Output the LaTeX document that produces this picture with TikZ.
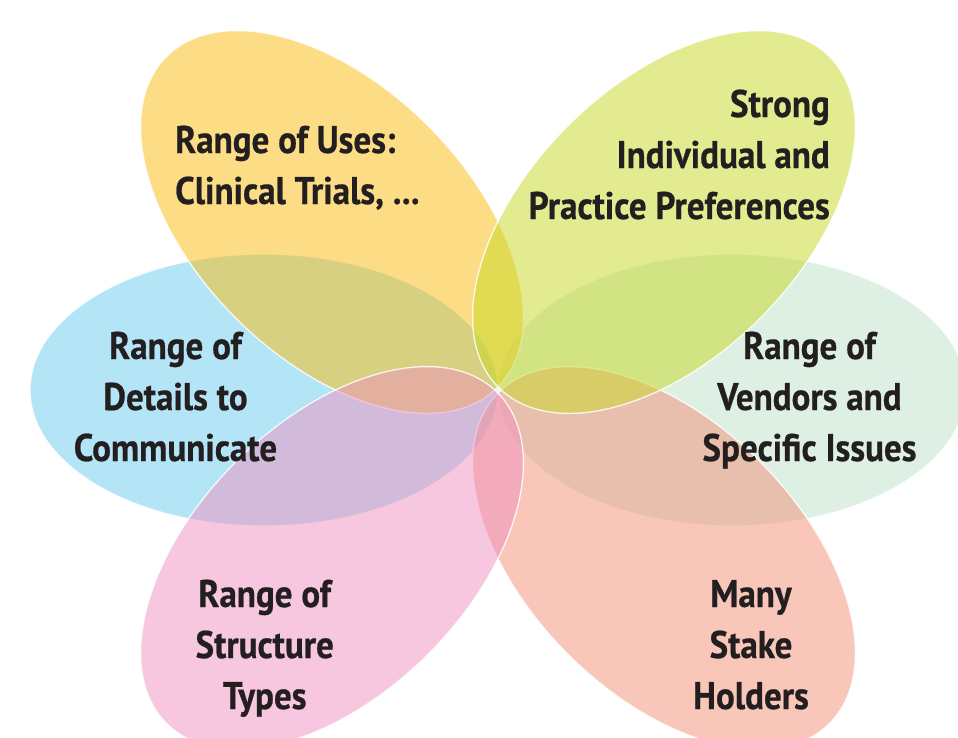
\documentclass[tikz,border=0pt]{standalone}
\usepackage{fontspec}
\setmainfont{PT Sans}[FakeStretch=0.91, BoldFeatures={FakeBold=0.6}]
\usetikzlibrary{shapes.geometric}
\definecolor{cYellow}{RGB}{251,189,13}
\definecolor{cGreen}{RGB}{199,217,35}
\definecolor{cBlue}{RGB}{105,205,241}
\definecolor{cMint}{RGB}{191,225,203}
\definecolor{cPink}{RGB}{239,145,191}
\definecolor{cSalmon}{RGB}{243,145,117}
\definecolor{txt}{RGB}{35,31,32}
\tikzset{
  petal/.style={ellipse, inner sep=0pt, minimum width=468pt, minimum height=272pt,
    fill=#1, fill opacity=0.5, draw=white, draw opacity=0.85, line width=1.3pt},
  label/.style={inner sep=0pt, text=txt, font=\bfseries\fontsize{38.5}{51}\selectfont}
}
\begin{document}
\begin{tikzpicture}[x=1pt,y=-1pt]
\useasboundingbox (0,0) rectangle (958,737);
\fill[white] (0,0) rectangle (958,737);
\clip (0,0) rectangle (958,737);
\node[petal=cBlue] (blue) at (264,390) {};
\node[petal=cMint] (mint) at (732,390) {};
\node[petal=cYellow, rotate=-45] (yellow) at (332,222) {};
\node[petal=cSalmon, rotate=-45] (salmon) at (664,558) {};
\node[petal=cGreen, rotate=45] (green) at (664,222) {};
\node[petal=cPink, rotate=45] (pink) at (332,558) {};
\node[label, anchor=base west, align=left] (t1) at (175,204) {Range of Uses:\\Clinical Trials, ...};
\node[label, anchor=base east, align=right] (t2) at (830,219) {Strong\\Individual and\\Practice Preferences};
\node[label, anchor=base, align=center] (t3) at (175.5,461) {Range of\\Details to\\Communicate};
\node[label, anchor=base, align=center] (t4) at (809.5,461) {Range of\\Vendors and\\Specific Issues};
\node[label, anchor=base, align=center] (t5) at (264.7,709) {Range of\\Structure\\Types};
\node[label, anchor=base, align=center] (t6) at (751,709) {Many\\Stake\\Holders};
\end{tikzpicture}
\end{document}
